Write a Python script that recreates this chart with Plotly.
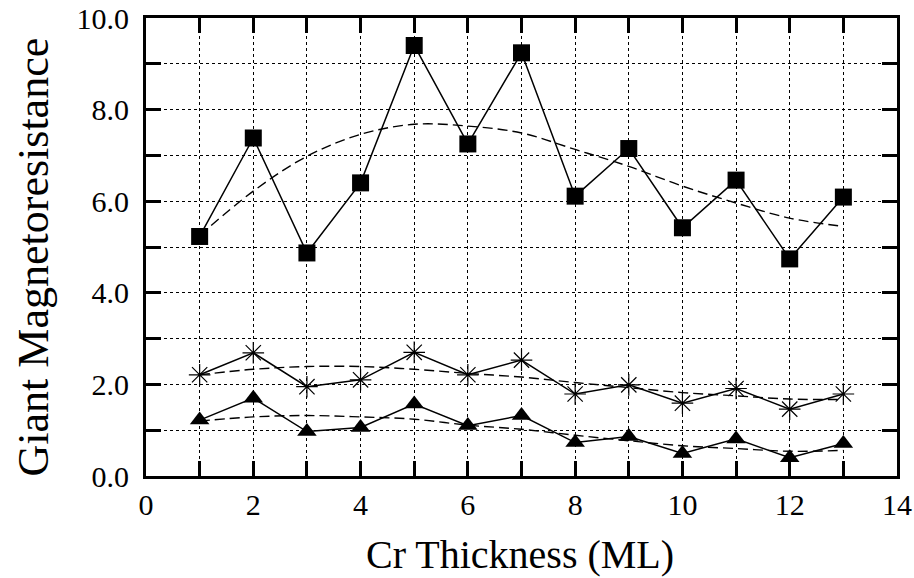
import plotly.graph_objects as go

thickness = [1, 2, 3, 4, 5, 6, 7, 8, 9, 10, 11, 12, 13]

gmr_squares = [5.23, 7.38, 4.87, 6.40, 9.40, 7.25, 9.24, 6.11, 7.15, 5.42, 6.46, 4.74, 6.09]
fit_squares = [5.25, 6.22, 6.98, 7.46, 7.68, 7.64, 7.49, 7.13, 6.76, 6.33, 5.96, 5.63, 5.45]

gmr_stars = [2.21, 2.69, 1.95, 2.10, 2.70, 2.21, 2.53, 1.79, 1.99, 1.59, 1.91, 1.46, 1.79]
fit_stars = [2.21, 2.33, 2.39, 2.39, 2.33, 2.24, 2.16, 2.04, 1.93, 1.82, 1.75, 1.68, 1.67]

gmr_triangles = [1.22, 1.70, 0.97, 1.06, 1.57, 1.10, 1.32, 0.73, 0.86, 0.49, 0.81, 0.40, 0.71]
fit_triangles = [1.20, 1.29, 1.32, 1.29, 1.24, 1.11, 1.02, 0.89, 0.77, 0.66, 0.60, 0.54, 0.56]

x_tickvals = list(range(0, 15))
x_ticktext = [str(v) if v % 2 == 0 else "" for v in x_tickvals]
y_tickvals = list(range(0, 11))
y_ticktext = [f"{v:.1f}" if v % 2 == 0 else "" for v in y_tickvals]

x_title = "Cr Thickness (ML)"
y_title = "Giant Magnetoresistance"

FONT = "Liberation Serif"

fig = go.Figure()

for fit in (fit_squares, fit_stars, fit_triangles):
    fig.add_trace(go.Scatter(
        x=thickness, y=fit, mode="lines",
        line=dict(color="black", width=1.4, dash="10px,5px", shape="spline", smoothing=1.0),
        showlegend=False, hoverinfo="skip"))

fig.add_trace(go.Scatter(
    x=thickness, y=gmr_squares, mode="lines+markers",
    line=dict(color="black", width=1.5),
    marker=dict(symbol="square", size=17, color="black"),
    showlegend=False))
fig.add_trace(go.Scatter(
    x=thickness, y=gmr_stars, mode="lines+markers",
    line=dict(color="black", width=1.5),
    marker=dict(symbol="asterisk-open", size=18, color="black", line=dict(color="black", width=1.2)),
    showlegend=False))
fig.add_trace(go.Scatter(
    x=thickness, y=gmr_triangles, mode="lines+markers",
    line=dict(color="black", width=1.5),
    marker=dict(symbol="triangle-up", size=17, color="black"),
    showlegend=False))

axis_common = dict(
    showline=True, linecolor="black", linewidth=3, mirror="allticks",
    ticks="inside", ticklen=15, tickwidth=3, tickcolor="black",
    showgrid=True, gridcolor="black", gridwidth=1, griddash="dot",
    zeroline=False,
    tickfont=dict(family=FONT, size=30, color="black"),
)

fig.update_xaxes(
    range=[0, 14], tickmode="array", tickvals=x_tickvals, ticktext=x_ticktext,
    ticklabelstandoff=0,
    **axis_common)
fig.update_yaxes(
    range=[0, 10], tickmode="array", tickvals=y_tickvals, ticktext=y_ticktext,
    ticklabelstandoff=8,
    **axis_common)

fig.add_annotation(
    text=x_title, xref="paper", yref="paper", x=0.498, y=-0.171,
    xanchor="center", yanchor="middle", showarrow=False,
    font=dict(family=FONT, size=40, color="black"))
fig.add_annotation(
    text=y_title, xref="paper", yref="paper", x=-0.150, y=0.478, textangle=-90,
    xanchor="center", yanchor="middle", showarrow=False,
    font=dict(family=FONT, size=44, color="black"))

fig.update_layout(
    width=914, height=578,
    margin=dict(l=146, r=17, t=18, b=102, autoexpand=False),
    plot_bgcolor="white", paper_bgcolor="white",
    font=dict(family=FONT, color="black"),
)

fig.write_html("out.html", config={"displayModeBar": False},
               post_script="document.body.style.margin='0px';")
